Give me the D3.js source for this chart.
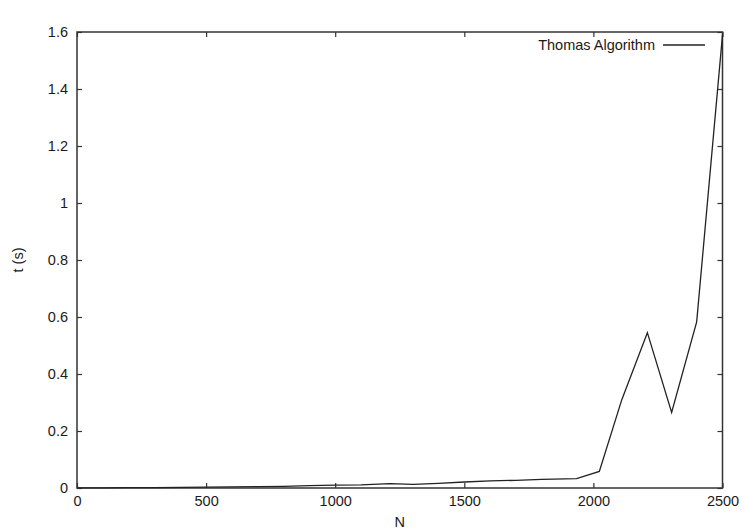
<!DOCTYPE html>
<html>
<head>
<meta charset="utf-8">
<script src="https://cdn.jsdelivr.net/npm/d3@7"></script>
<style>
  body { margin: 0; background: #fff; }
  text { font-family: "Liberation Sans", Arial, sans-serif; fill: #1a1a1a; }
</style>
</head>
<body>
<svg id="chart" width="742" height="531"></svg>
<script>
// timings
nValues = [0, 100, 200, 300, 400, 500, 600, 700, 800, 900, 1000, 1100, 1212, 1302, 1400, 1500, 1600, 1700, 1800, 1935, 2023, 2110, 2209, 2303, 2400, 2500];
tValues = [0.0003, 0.0005, 0.001, 0.0015, 0.002, 0.003, 0.004, 0.005, 0.006, 0.008, 0.010, 0.011, 0.015, 0.013, 0.016, 0.021, 0.025, 0.027, 0.030, 0.033, 0.058, 0.31, 0.545, 0.265, 0.583, 1.59];
xTicks = [0, 500, 1000, 1500, 2000, 2500];
yTicks = [0, 0.2, 0.4, 0.6, 0.8, 1, 1.2, 1.4, 1.6];
seriesName = "Thomas Algorithm";

let svg = d3.select("#chart");
let plotLeft = 77, plotRight = 722.5, plotTop = 32, plotBottom = 488;

let x = d3.scaleLinear().domain([0, 2500]).range([plotLeft, plotRight]);
let y = d3.scaleLinear().domain([0, 1.6]).range([plotBottom, plotTop]);
let fmt = d => String(+d.toFixed(1));

function styleAxis(g) {
    g.select(".domain").remove();
    g.selectAll(".tick line").attr("stroke", "#333").attr("stroke-width", 1.2);
    g.selectAll(".tick text").style("font-size", "14.5px").attr("fill", "#1a1a1a");
}

// bottom + left with labels, top + right mirrored ticks only
svg.append("g").attr("transform", "translate(0," + plotBottom + ")")
    .call(d3.axisBottom(x).tickValues(xTicks).tickSize(-5).tickPadding(8).tickFormat(fmt))
    .call(styleAxis);
svg.append("g").attr("transform", "translate(0," + plotTop + ")")
    .call(d3.axisTop(x).tickValues(xTicks).tickSize(-5).tickFormat(""))
    .call(styleAxis);
svg.append("g").attr("transform", "translate(" + plotLeft + ",0)")
    .call(d3.axisLeft(y).tickValues(yTicks).tickSize(-5).tickPadding(9).tickFormat(fmt))
    .call(styleAxis);
svg.append("g").attr("transform", "translate(" + plotRight + ",0)")
    .call(d3.axisRight(y).tickValues(yTicks).tickSize(-5).tickFormat(""))
    .call(styleAxis);

// frame
svg.append("rect")
    .attr("x", plotLeft).attr("y", plotTop)
    .attr("width", plotRight - plotLeft).attr("height", plotBottom - plotTop)
    .attr("fill", "none").attr("stroke", "#333").attr("stroke-width", 1.5);

let points = nValues.map((n, i) => ({n: n, t: tValues[i]}));
let line = d3.line().x(d => x(d.n)).y(d => y(d.t));
svg.append("path")
    .datum(points)
    .attr("d", line)
    .attr("fill", "none")
    .attr("stroke", "#222")
    .attr("stroke-width", 1.3);

// legend
svg.append("text").attr("x", 655).attr("y", 50)
    .attr("text-anchor", "end").style("font-size", "14.5px").text(seriesName);
svg.append("line").attr("x1", 663).attr("x2", 705).attr("y1", 45).attr("y2", 45)
    .attr("stroke", "#222").attr("stroke-width", 1.3);

// axis titles
svg.append("text").attr("x", x(1250)).attr("y", 527)
    .attr("text-anchor", "middle").style("font-size", "14.5px").text("N");
svg.append("text").attr("transform", "translate(23," + y(0.8) + ") rotate(-90)")
    .attr("text-anchor", "middle").style("font-size", "14.5px").text("t (s)");
</script>
</body>
</html>
